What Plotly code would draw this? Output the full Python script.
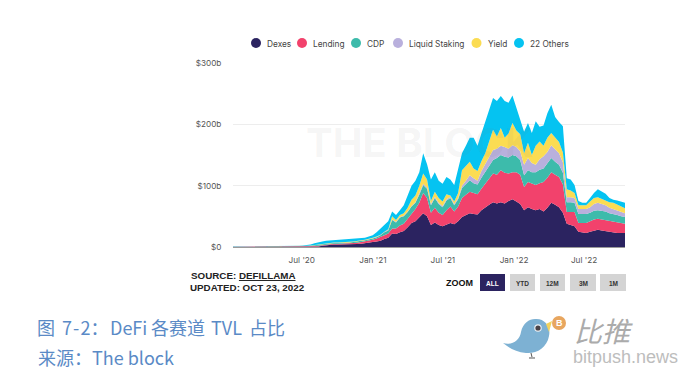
import numpy as np
import pandas as pd
import plotly.graph_objects as go

dates = pd.date_range("2020-01-05", "2022-10-15", periods=102)
names = ["Dexes", "Lending", "CDP", "Liquid Staking", "Yield", "22 Others"]
colors = ["#2b2360", "#f2426c", "#3dbbab", "#b9b0dd", "#fbdc52", "#05c3f1"]

# Top edge of each band, $b
dexes_top = [.2,.2,.2,.2,.2,.2,.2,.2,.2,.2,.2,.2,.2,.2,.2,.2,.3,.3,.3,.4,.5,.7,1,2,3,3.5,4,4,4,4.2,4.5,4.8,5,5.5,6,7,
 8,9,10,13,15,22,21,24,26,32,39,42,49,55,50,36,40,36,34,37,39,37,42,49,52,55,54,53,60,65,69,73,71,73,71,75,78,74,70,60,65,62,60,62,58,64,72,69,65,56,38,36,34,25,24,23,25,27,28,27,26,24,23,23,23,23]
lending_top = [.6,.6,.6,.5,.5,.5,.5,.5,.5,.5,.6,.6,.6,.7,.7,.8,.8,.9,.9,1,1.2,1.6,2,3,4.5,5,5.5,5.5,5.5,5.8,6,6.5,7,8,9,10,
 12,14,16,19,22,30,30,35,38,46,55,62,72,88,80,56,64,56,52,60,66,58,66,80,85,90,88,86,95,104,112,120,118,125,121,120,122,122,118,98,106,104,101,104,106,113,122,118,114,102,57,57,57,39,39,39,42,45,46,45,44,42,41,40,39,38]
cdp_top = [1.0,1.0,1.0,.9,.9,.9,.9,.9,.9,.9,1.0,1.0,1.0,1.1,1.1,1.2,1.3,1.4,1.6,1.8,2,2.7,3.5,4.5,5.5,6,6.5,6.5,6.5,7,7.5,8,8.5,10,11,12,
 14,16,19,24,27,44,40,48,50,57,66,72,85,101,95,68,80,70,65,76,80,68,78,96,102,109,104,102,113,122,132,142,145,150,147,146,150,148,142,117,125,122,122,126,128,136,145,139,134,121,73,73,72,54,54,54,56,59,60,59,58,55,54,52,50,49]
liquid_top = [1.0,1.0,1.0,.9,.9,.9,.9,.9,.9,.9,1.0,1.0,1.0,1.1,1.1,1.2,1.3,1.4,1.6,1.8,2,2.7,3.5,4.5,5.5,6,6.5,6.5,6.5,7,7.5,8,8.6,10,11.1,12.2,
 14.3,16.3,19.4,24.5,28,45,41,49,51,58,67,73,87,103,97,70,82,72,67,78,82,70,80,100,108,117,112,108,124,136,148,158,160,165,163,160,166,163,156,134,145,137,134,143,148,155,166,159,153,138,81,81,80,62,62,62,65,70,72,70,68,64,62,60,57,55]
yield_top = [1.0,1.0,1.0,.9,.9,.9,.9,.9,.9,.9,1.0,1.0,1.0,1.1,1.1,1.2,1.3,1.5,1.7,2,2.5,3.5,4.5,5.5,6.5,7,7.5,7.5,7.5,8,8.5,9,9.5,11,12,13,
 15,17,20,25,29,50,44,52,55,64,77,84,100,120,110,75,90,80,74,86,84,74,88,125,132,139,128,124,140,153,172,191,180,194,178,185,202,190,184,153,170,150,165,172,165,178,186,178,171,154,94,92,88,68,68,68,74,80,81,78,76,73,72,69,66,63]
total_top = [1.1,1.1,1.1,1.0,1.0,1.0,1.0,1.0,1.0,1.0,1.1,1.1,1.2,1.2,1.3,1.5,1.7,2,2.5,3,4,6,8,9,10,10.5,11,11,11,11.5,12,12.5,13,14,15,17,
 19,24,30,36,42,58,52,60,68,84,100,108,122,153,135,110,122,108,103,114,110,101,125,153,165,178,178,165,185,205,222,243,238,246,238,235,247,228,208,188,202,186,205,196,198,218,232,212,204,197,112,110,101,75,72,72,80,88,94,90,87,80,77,76,74,72]

tops = np.array([dexes_top, lending_top, cdp_top, liquid_top, yield_top, total_top], dtype=float)
bands = np.diff(tops, axis=0, prepend=0)

x_ticks = ["2020-07-01", "2021-01-01", "2021-07-01", "2022-01-01", "2022-07-01"]
x_labels = ["Jul '20", "Jan '21", "Jul '21", "Jan '22", "Jul '22"]
y_ticks = [0, 100, 200, 300]
y_labels = ["$0", "$100b", "$200b", "$300b"]
zoom_labels = ["ALL", "YTD", "12M", "3M", "1M"]

L, R, T, B = 233, 625, 63, 247
def fx(x): return (x - L) / (R - L)
def fy(y): return (B - y) / (B - T)

fig = go.Figure()
for n, c, v in zip(names, colors, bands):
    fig.add_trace(go.Scatter(x=dates, y=v, name=n, stackgroup="one", mode="lines",
                             line=dict(width=0, color=c), fillcolor=c, hoverinfo="skip"))

shapes, ann = [], []
def text(x, y, s, size, color, anchor="left", family="Inter, Roboto, sans-serif", **kw):
    ann.append(dict(xref="paper", yref="paper", x=fx(x), y=fy(y), text=s, showarrow=False,
                    xanchor=anchor, yanchor="middle", borderpad=0, borderwidth=0,
                    font=dict(size=size, color=color, family=family), **kw))
def circle(cx, cy, r, color):
    shapes.append(dict(type="circle", xref="paper", yref="paper", x0=fx(cx-r), x1=fx(cx+r),
                       y0=fy(cy+r), y1=fy(cy-r), fillcolor=color, line=dict(width=0)))
def rect(x0, y0, x1, y1, color):
    shapes.append(dict(type="rect", xref="paper", yref="paper", x0=fx(x0), x1=fx(x1),
                       y0=fy(y1), y1=fy(y0), fillcolor=color, line=dict(width=0)))
def path(d, color, line=None):
    out = d.split()
    res, i = [], 0
    while i < len(out):
        t = out[i]
        if t.isalpha():
            res.append(t); i += 1
        else:
            res.append(f"{fx(float(out[i])):.5f},{fy(float(out[i+1])):.5f}"); i += 2
    shapes.append(dict(type="path", xref="paper", yref="paper", path=" ".join(res),
                       fillcolor=color, line=line or dict(width=0)))

# legend
leg_c = [256, 302, 356, 398, 476.5, 519]
leg_t = [267, 313, 367, 409, 488, 530]
for c, tx, n, col in zip(leg_c, leg_t, names, colors):
    circle(c, 43, 5, col)
    text(tx, 43.5, n, 8.3, "#444")

# watermark
text(306, 142, "<b>THE BLOCK</b>", 40, "rgba(120,120,120,0.08)")

# source
text(190.5, 275, "<b>SOURCE: <u>DEFILLAMA</u></b>", 9.8, "#222", family="Liberation Sans")
text(190, 287, "<b>UPDATED: OCT 23, 2022</b>", 9.8, "#222", family="Liberation Sans")

# zoom buttons
text(446, 283, "<b>ZOOM</b>", 9, "#111", family="Liberation Sans")
btn = [(480, 505), (510, 535), (540, 565), (570, 596), (600, 626)]
for i, ((a, b), s) in enumerate(zip(btn, zoom_labels)):
    rect(a, 274, b, 291, "#2b2360" if i == 0 else "#d4d4d4")
    text((a + b) / 2, 283, f"<b>{s}</b>", 6.5, "#fff" if i == 0 else "#333", anchor="center", family="Liberation Sans")

# caption
cap = "Noto Sans CJK SC"
cap_col = "#5a8ac6"
for cx, s in [(37, "图"), (62, "7\u200a-\u200a2："), (110, "DeFi"), (151, "各赛道"), (211, "TVL"), (249, "占比")]:
    text(cx, 327, s, 18, cap_col, family=cap)
text(38, 357, "来源：The block", 18, cap_col, family=cap)

# logo
path("M 503 343 C 512 346 520 340 521 332 C 523 323 529 319 535 319 C 545 318 551 327 549 336 C 547 348 536 354 526 353 C 516 352 509 348 503 343 Z", "#7db1d3")
path("M 546 324 L 552 321 L 549 332 Z", "#f3d35c")
circle(538, 328, 3.8, "#e9eef2")
circle(538, 328, 2.6, "#4a4348")
path("M 531 353 L 532 357 M 529 358 L 535 358", "#555", dict(width=1, color="#555"))
circle(559, 323, 7, "#e8a65f")
text(559, 323, "<b>B</b>", 9, "#fff", anchor="center", family="Liberation Sans")
text(574, 330, "<i>比推</i>", 28, "#ababab", family=cap)
text(573, 357, "bitpush.news", 18, "#bdbdbd", family="Liberation Sans")

tick_font = dict(size=8.2, color="#555", family="Inter, Roboto, sans-serif")
fig.update_layout(
    width=700, height=384, autosize=False,
    margin=dict(l=L, r=700 - R, t=T, b=384 - B),
    paper_bgcolor="white", plot_bgcolor="white", showlegend=False,
    hovermode=False, shapes=shapes, annotations=ann,
    xaxis=dict(type="date", range=["2020-01-05", "2022-10-15"], tickmode="array",
               tickvals=x_ticks, ticktext=x_labels, showgrid=False, zeroline=False,
               showline=True, linecolor="#9a9a9a", linewidth=1, ticks="outside", ticklen=5,
               tickcolor="rgba(0,0,0,0)", tickfont=tick_font),
    yaxis=dict(range=[0, 300], tickmode="array", tickvals=y_ticks, ticktext=y_labels,
               showgrid=True, gridcolor="#ededed", gridwidth=1, zeroline=False, showline=False,
               ticks="outside", ticklen=9, tickcolor="rgba(0,0,0,0)", tickfont=tick_font),
)
fig.write_html("out.html", config={"displayModeBar": False},
               post_script="document.body.style.margin='0';document.documentElement.style.overflow='hidden';")
